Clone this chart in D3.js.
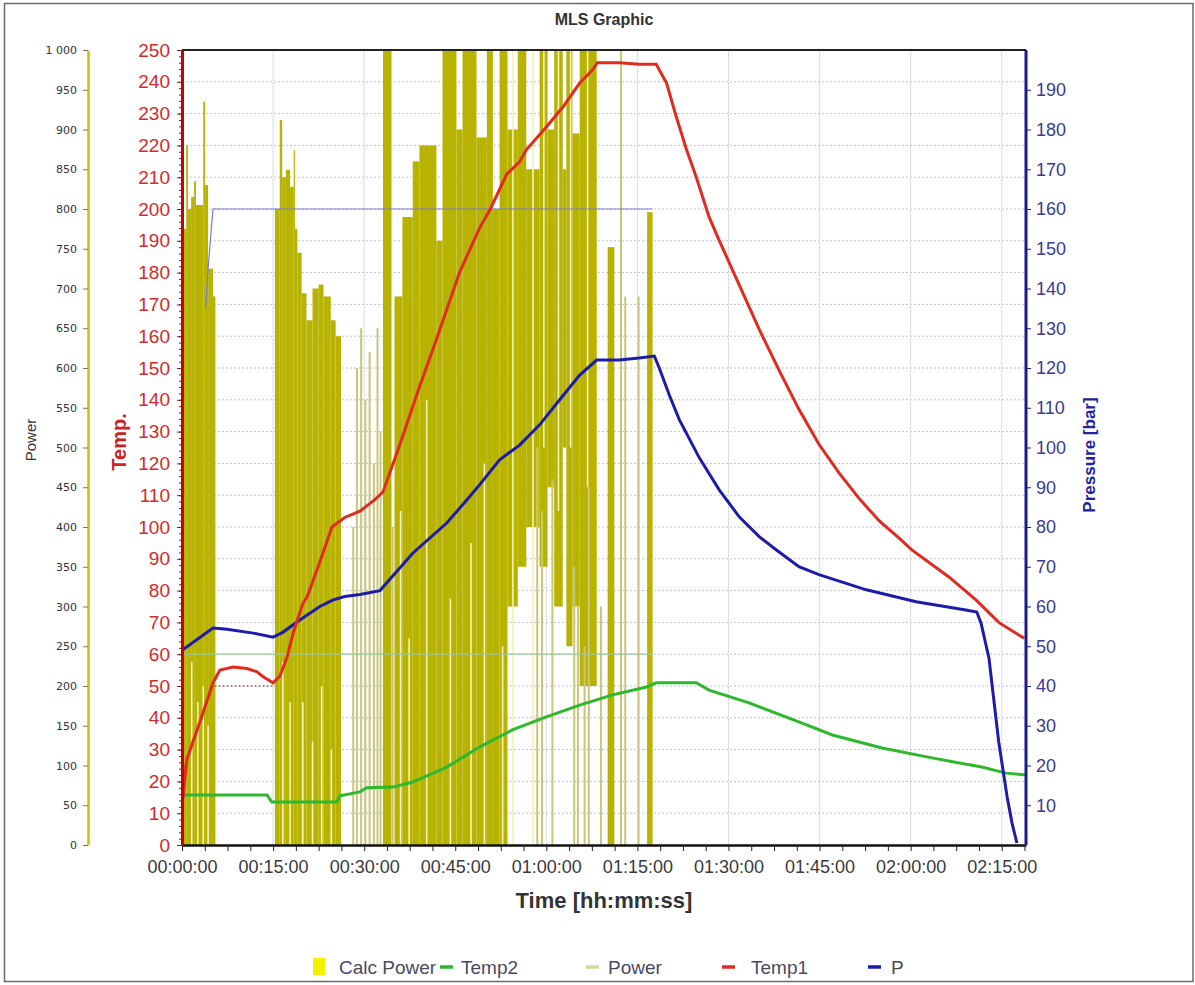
<!DOCTYPE html>
<html><head><meta charset="utf-8">
<script src="https://cdn.jsdelivr.net/npm/d3@7"></script>
<style>
body{margin:0;background:#fff}
svg{display:block;font-family:Arial,"Liberation Sans",sans-serif}
</style>
</head><body>
<svg id="c" width="1195" height="985"></svg>
<script>
// ---------------- DATA (time in minutes) ----------------
const timeTicks = [0,15,30,45,60,75,90,105,120,135];
const tempTicks = d3.range(0,251,10);
const pressureTicks = d3.range(10,191,10);
const powerTicks = d3.range(0,1001,50);

const temp1 = [[0,12],[0.8,27],[3.0,39],[5.1,51],[6.25,55],[8.4,56],[10.7,55.5],[12.3,54.5],[13.3,53],[15.0,51],
 [16.1,53],[17.3,59],[18.3,66.6],[19.9,76],[20.6,78],[22.7,89],[24.7,100],[26.8,103],[29.3,105],[31.7,108.5],
 [33.1,111],[35.9,126],[39.1,144],[41.9,159],[45.7,180],[49.0,194],[50.7,199.7],[53.5,211],[55.6,214.8],[56.7,218.6],
 [60.0,225.8],[62.7,232],[65.5,239.6],[67.6,243.7],[68.4,246],[72.0,246],[75.3,245.5],[78.1,245.5],[79.8,239.6],
 [81.4,229],[83.1,218.6],[84.7,210],[86.8,197.5],[88.5,190],[91.8,176],[95.1,162],[98.4,149],[101.6,137],[104.9,126],
 [108.2,117],[111.5,109],[114.8,102],[118.1,96.5],[120.2,92.8],[126.3,84.3],[130.8,77],[134.5,70],[138.7,65]];

const temp2 = [[0,15.7],[14.0,15.7],[14.8,13.5],[25.5,13.5],[26.0,15.5],[29.3,16.7],[30.4,18],[34.7,18.2],[38.0,19.8],
 [43.6,24.5],[49.0,30.8],[54.4,36.2],[60.0,40.3],[65.5,44],[70.9,47.2],[76.5,49.7],[78.1,51],[84.7,51],[86.8,48.7],
 [93.4,44.7],[101.6,38.7],[107.1,34.6],[115.3,30.5],[123.5,27.4],[131.7,24.5],[135.7,22.6],[139.0,22]];

const pressure = [[0,49],[5.1,54.6],[7.4,54.3],[11.7,53.3],[15.0,52.3],[16.6,53.5],[19.4,56.6],[22.7,60],[24.8,61.6],
 [26.8,62.5],[29.3,63],[32.6,64],[38.0,73.4],[43.6,81],[46.9,86.8],[49.0,90.6],[52.3,96.9],[55.6,100.6],[58.9,105.7],
 [62.2,112],[65.5,118.2],[68.3,122],[72.0,122],[75.3,122.5],[77.8,123],[78.6,120],[80.3,113],[81.9,107],[85.2,97.4],
 [88.5,89.3],[91.8,82.5],[95.1,77.5],[97.9,74.2],[101.6,70],[104.9,68],[112.7,64.2],[120.9,61.2],[129.1,59.1],
 [130.9,58.6],[131.6,55.8],[132.9,47],[134.5,26],[135.9,12],[136.7,5.5],[137.5,0.5]];

// set-point traces (thin)
const pressureSet = [[3.9,135],[4.3,145],[5.1,160],[77.5,160]];
const temp2Set = [[0,60],[77.5,60]];
const temp1Set = [[0,22],[5.1,50],[15.0,50]];

// Power: [tStart, tEnd, low, high] bands of the fast-oscillating signal
const powerBands = [
 [0.1,0.7,0,775],[0.7,1.0,0,880],[1.0,1.5,0,800],[1.5,2.0,0,815],[2.0,2.3,0,835],[2.3,3.5,0,805],
 [3.5,3.8,0,935],[3.8,4.3,0,830],[4.3,5.1,0,725],[5.1,5.5,0,690],
 [15.3,16.1,0,800],[16.1,16.5,0,912],[16.5,17.1,0,840],[17.1,17.8,0,849],[17.8,18.4,0,828],[18.4,18.6,0,874],
 [18.6,19.0,0,775],[19.0,19.7,0,745],[19.7,20.5,0,694],[20.5,21.5,0,660],[21.5,22.5,0,700],[22.5,23.3,0,705],
 [23.3,24.5,0,690],[24.5,25.3,0,660],[25.3,26.2,0,640],
 [33.1,34.5,0,1000],[35.0,36.3,0,690],[36.3,38.0,0,790],[38.0,39.1,0,860],[39.1,41.9,0,880],[41.9,42.9,0,760],
 [42.9,45.2,0,1000],[45.2,46.2,0,900],[46.2,48.5,0,1000],[48.5,50.2,0,890],[50.2,51.2,0,1000],[51.2,52.3,0,800],
 [52.3,53.6,0,1000],[53.6,55.3,300,900],[55.3,56.7,350,1000],[56.7,58.9,400,850],[58.9,60.2,350,1000],
 [60.2,61.3,450,900],[61.3,62.7,300,1000],[62.7,63.3,500,850],[63.3,64.3,250,1000],[64.3,65.5,300,895],
 [65.5,68.3,200,1000],[70.1,71.2,0,752],[76.6,77.5,0,796]
];
// pale single power strokes: [t, high]
const powerPale = [[28.2,400],[28.8,600],[29.5,650],[30.2,560],[30.9,620],[31.6,480],[32.2,650],[32.7,520],
 [34.7,400],[72.3,1000],[73.0,690],[75.2,690],[69.0,300],
 [58.5,500],[59.3,420],[61.0,460],[64.6,350],[65.2,300],[66.3,250],[67.0,450]];
// light stripes inside dense power blocks: [t, low, high]
const powerStripes = [[1.6,0,230],[2.6,0,180],[3.5,0,200],[4.3,0,150],
 [16.6,0,230],[17.8,0,180],[19.9,0,180],[21.5,0,130],[23.0,0,200],[24.6,0,120],
 [36.0,0,420],[37.4,0,260],[40.3,0,560],[44.2,0,310],[47.6,0,380],[49.8,0,480],[52.8,0,250],
 [54.5,0,1000],[57.8,0,1000],[59.6,500,1000],[62.0,420,1000],[64.0,500,1000],[66.8,450,1000]];

const legendItems = [
 {name:"Calc Power", kind:"box", color:"#f2f200"},
 {name:"Temp2", kind:"line", color:"#2db82d"},
 {name:"Power", kind:"line", color:"#d8d8a0"},
 {name:"Temp1", kind:"line", color:"#e02b20"},
 {name:"P", kind:"line", color:"#1c1ca8"}
];

// ---------------- CHART ----------------
const svg = d3.select("#c");
const L = 182, R = 1026, T = 50, B = 845;
const x = d3.scaleLinear().domain([0,139]).range([L,R]);
const yT = d3.scaleLinear().domain([0,250]).range([B,T]);
const yP = d3.scaleLinear().domain([0,200]).range([B,T]);
const yW = d3.scaleLinear().domain([0,1000]).range([B,T]);

const pad = n => String(n).padStart(2,"0");
const fmt = m => pad(Math.floor(m/60)) + ":" + pad(Math.round(m%60)) + ":00";

svg.append("rect").attr("x",4.5).attr("y",3.5).attr("width",1188.5).attr("height",978)
  .attr("fill","#fff").attr("stroke","#6a6a6a").attr("stroke-width",1.5);

svg.append("defs").append("clipPath").attr("id","plot")
  .append("rect").attr("x",L).attr("y",T).attr("width",R-L).attr("height",B-T);

// gridlines
const grid = svg.append("g");
grid.selectAll("line.h").data(tempTicks.filter(d=>d>0&&d<250)).join("line")
  .attr("x1",L).attr("x2",R).attr("y1",d=>yT(d)).attr("y2",d=>yT(d))
  .attr("stroke","#c4c4cc").attr("stroke-dasharray","2,2");
grid.selectAll("line.v").data(timeTicks.filter(d=>d>0)).join("line")
  .attr("x1",d=>x(d)).attr("x2",d=>x(d)).attr("y1",T).attr("y2",B)
  .attr("stroke","#d4d4d8").attr("stroke-dasharray","3,1");

const plot = svg.append("g").attr("clip-path","url(#plot)");

// power bands
plot.selectAll("rect.pw").data(powerBands).join("rect")
  .attr("x",d=>x(d[0])).attr("width",d=>x(d[1])-x(d[0]))
  .attr("y",d=>yW(d[3])).attr("height",d=>yW(d[2])-yW(d[3]))
  .attr("fill","#b7b300");
plot.selectAll("line.pp").data(powerPale).join("line")
  .attr("x1",d=>x(d[0])).attr("x2",d=>x(d[0])).attr("y1",B).attr("y2",d=>yW(d[1]))
  .attr("stroke","#c9c67a").attr("stroke-width",2);
plot.selectAll("line.ps").data(powerStripes).join("line")
  .attr("x1",d=>x(d[0])).attr("x2",d=>x(d[0])).attr("y1",d=>yW(d[1])).attr("y2",d=>yW(d[2]))
  .attr("stroke","#f4f2b8").attr("stroke-width",1.6);

// set-points
const lineP = d3.line().x(d=>x(d[0])).y(d=>yP(d[1]));
const lineT = d3.line().x(d=>x(d[0])).y(d=>yT(d[1]));
plot.append("path").attr("d",lineP(pressureSet)).attr("fill","none").attr("stroke","#7a7ad6").attr("stroke-width",1.2);
plot.append("path").attr("d",lineT(temp2Set)).attr("fill","none").attr("stroke","#9cc89c").attr("stroke-width",1.2);
plot.append("path").attr("d",lineT(temp1Set)).attr("fill","none").attr("stroke","#7a4040").attr("stroke-width",1.2).attr("stroke-dasharray","2,2");

// main series
plot.append("path").attr("d",lineT(temp2)).attr("fill","none").attr("stroke","#2db82d").attr("stroke-width",3);
plot.append("path").attr("d",lineP(pressure)).attr("fill","none").attr("stroke","#1c1ca8").attr("stroke-width",3);
plot.append("path").attr("d",lineT(temp1)).attr("fill","none").attr("stroke","#e02b20").attr("stroke-width",3);

// frame lines
svg.append("line").attr("x1",L).attr("x2",R).attr("y1",T).attr("y2",T).attr("stroke","#222").attr("stroke-width",2);

// X axis
const xAxis = svg.append("g").attr("transform",`translate(0,${B})`)
  .call(d3.axisBottom(x).tickValues(d3.range(0,139,3.75)).tickSize(6).tickSizeOuter(0)
    .tickFormat(d => (d%15===0) ? fmt(d) : ""));
xAxis.select(".domain").attr("stroke","#111").attr("stroke-width",2.5);
xAxis.selectAll(".tick line").attr("stroke","#222");
xAxis.selectAll("text").attr("font-size",18).attr("fill","#3a3a3a").attr("dy","1.05em");

svg.append("text").attr("x",604).attr("y",908).attr("text-anchor","middle")
  .attr("font-size",22).attr("font-weight","bold").attr("fill","#333").text("Time [hh:mm:ss]");

// Temp axis
const tAxis = svg.append("g").attr("transform",`translate(${L},0)`)
  .call(d3.axisLeft(yT).tickValues(tempTicks).tickSize(5).tickSizeOuter(0));
tAxis.select(".domain").attr("stroke","#cc0000").attr("stroke-width",3);
tAxis.selectAll(".tick line").attr("stroke","#772222");
tAxis.selectAll("text").attr("font-size",19).attr("fill","#d42a2a").attr("x",-12);
svg.append("g").attr("transform",`translate(${L},0)`)
  .call(d3.axisLeft(yT).tickValues(d3.range(0,251,2)).tickSize(3).tickFormat(""))
  .call(g=>{g.select(".domain").remove(); g.selectAll("line").attr("stroke","#772222");});
svg.append("text").attr("transform","translate(126,442) rotate(-90)").attr("text-anchor","middle")
  .attr("font-size",20).attr("font-weight","bold").attr("fill","#cc2222").text("Temp.");

// Power axis
const wAxis = svg.append("g").attr("transform","translate(88,0)")
  .call(d3.axisLeft(yW).tickValues(powerTicks).tickSize(5).tickSizeOuter(0)
    .tickFormat(d => d===1000 ? "1 000" : d));
wAxis.select(".domain").attr("stroke","#c8c400").attr("stroke-width",2.5);
wAxis.selectAll(".tick line").attr("stroke","#777");
wAxis.selectAll("text").attr("font-size",11).attr("fill","#333").attr("x",-11)
  .attr("font-family","'DejaVu Sans',sans-serif");
svg.append("text").attr("transform","translate(36,440) rotate(-90)").attr("text-anchor","middle")
  .attr("font-size",15).attr("fill","#333").text("Power");

// Pressure axis
const pAxis = svg.append("g").attr("transform",`translate(${R},0)`)
  .call(d3.axisRight(yP).tickValues(pressureTicks).tickSize(5).tickSizeOuter(0));
svg.append("line").attr("x1",R).attr("x2",R).attr("y1",T).attr("y2",B).attr("stroke","#1a1a90").attr("stroke-width",3);
pAxis.select(".domain").remove();
pAxis.selectAll(".tick line").attr("stroke","#1a1a90");
pAxis.selectAll("text").attr("font-size",18).attr("fill","#3b3b90").attr("x",10);
svg.append("text").attr("transform","translate(1095,455) rotate(-90)").attr("text-anchor","middle")
  .attr("font-size",17).attr("font-weight","bold").attr("fill","#24249a").text("Pressure [bar]");

// Title
svg.append("text").attr("x",604).attr("y",25).attr("text-anchor","middle")
  .attr("font-size",16).attr("font-weight","bold").attr("fill","#333").text("MLS Graphic");

// Legend
const legMark = [313, 440, 586, 722, 868];
const legText = [339, 461, 608, 751, 891];
const lg = svg.append("g");
legendItems.forEach((it,i)=>{
  const g = lg.append("g").attr("transform","translate(0,967)");
  if (it.kind==="box") g.append("rect").attr("x",legMark[i]).attr("y",-9).attr("width",12).attr("height",17).attr("fill",it.color);
  else g.append("line").attr("x1",legMark[i]).attr("x2",legMark[i]+13).attr("y1",0).attr("y2",0).attr("stroke",it.color).attr("stroke-width",3.5);
  g.append("text").attr("x",legText[i]).attr("y",7).attr("font-size",19).attr("fill","#4a4a5e").text(it.name);
});
</script>
</body></html>
